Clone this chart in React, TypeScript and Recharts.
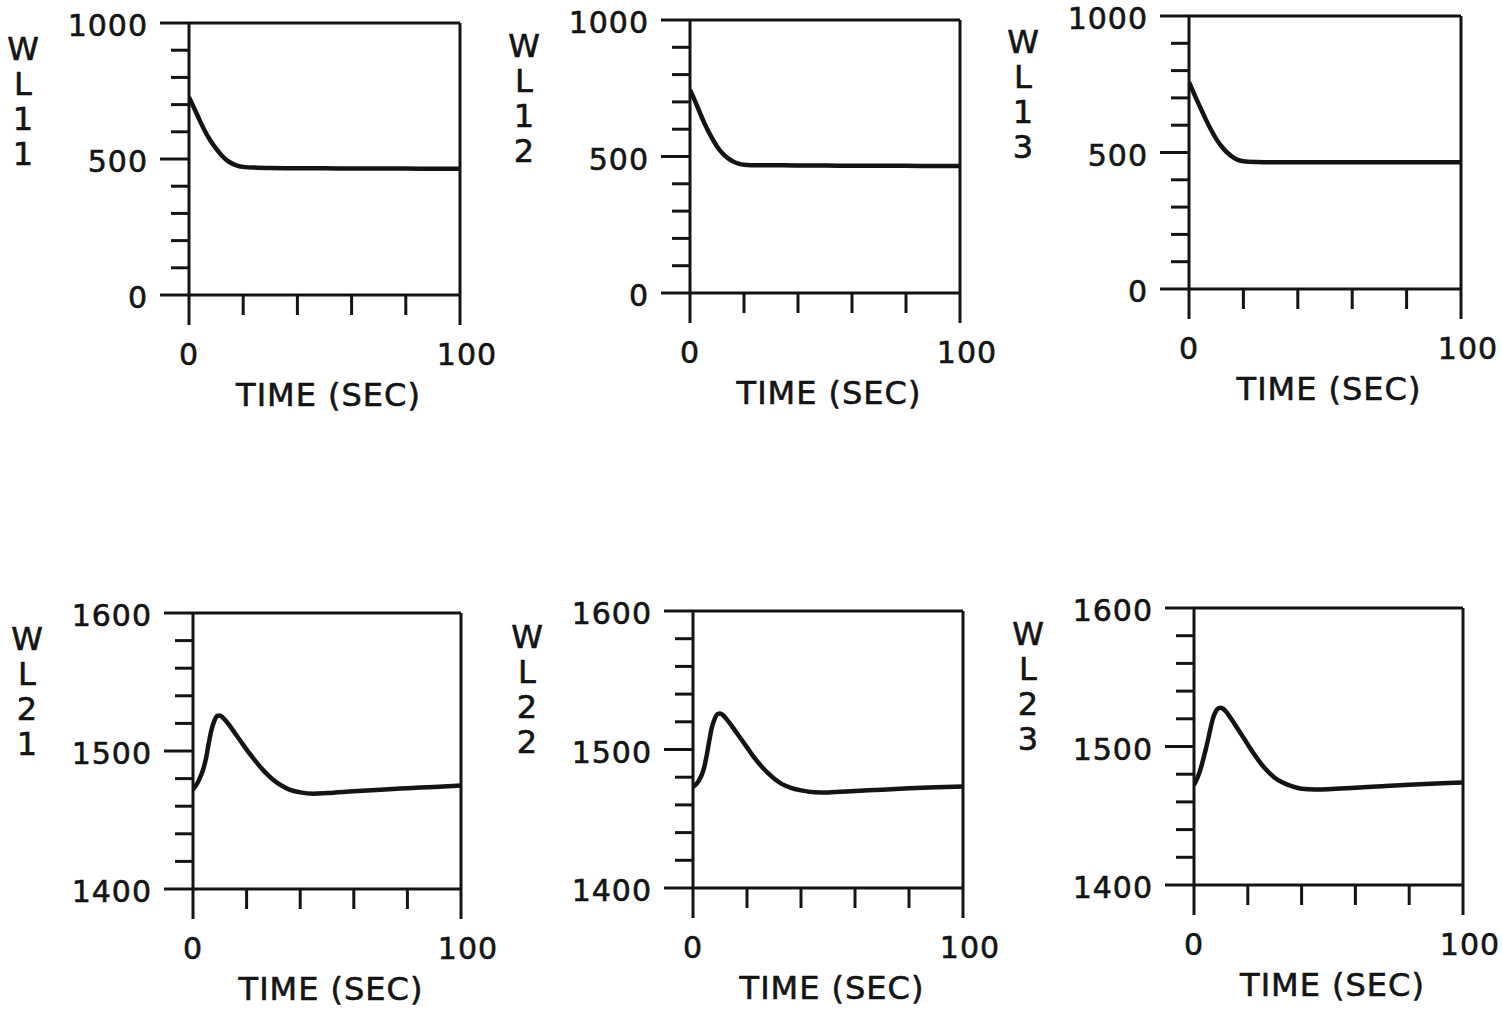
import React from "react";
import { LineChart, Line, XAxis, YAxis, ReferenceLine } from "recharts";

const INK = "#141414";
const FONT = "'DejaVu Sans', 'Liberation Sans', sans-serif";

// ---- tick labels / titles ----
const TIME_TICKS = [0, 20, 40, 60, 80, 100];
const TIME_LABELS = [0, 100];
const TOP_Y_TICKS = [0, 100, 200, 300, 400, 500, 600, 700, 800, 900, 1000];
const TOP_Y_LABELS = [0, 500, 1000];
const BOT_Y_TICKS = [1400, 1420, 1440, 1460, 1480, 1500, 1520, 1540, 1560, 1580, 1600];
const BOT_Y_LABELS = [1400, 1500, 1600];
const X_TITLE = "TIME (SEC)";
const NAMES = [
  ["W", "L", "1", "1"],
  ["W", "L", "1", "2"],
  ["W", "L", "1", "3"],
  ["W", "L", "2", "1"],
  ["W", "L", "2", "2"],
  ["W", "L", "2", "3"],
];

// ---- series (time in sec) ----
const TOP_T = [0, 2, 4, 6, 8, 10, 12, 14, 16, 18, 20, 25, 30, 40, 50, 60, 70, 80, 90, 100];
const WL11 = [727, 685, 641, 600, 566, 538, 514, 495, 483, 475, 471, 468, 467, 466, 466, 465, 465, 465, 464, 464];
const WL12 = [744, 700, 652, 608, 570, 537, 512, 494, 482, 474, 470, 468, 468, 467, 467, 466, 466, 466, 465, 465];
const WL13 = [758, 712, 668, 625, 585, 550, 522, 500, 484, 473, 468, 465, 464, 464, 464, 464, 464, 464, 464, 464];

const BOT_T = [0, 2, 4, 5, 6, 7, 8, 9, 10, 11, 12, 14, 16, 18, 20, 22, 24, 26, 28, 30, 33, 36, 40, 45, 50, 60, 70, 80, 90, 100];
const WL21 = [1472, 1478, 1488, 1496, 1507, 1516, 1522, 1525.5, 1525.8, 1524.5, 1522.5, 1517.5, 1512, 1506.5, 1501, 1496, 1491, 1486.5, 1482.5, 1479, 1475, 1472, 1470, 1469, 1469.5, 1470.8, 1472, 1473, 1474, 1475];
const WL22 = [1473, 1477, 1486, 1495, 1506, 1516, 1522, 1525.5, 1526, 1525, 1523, 1518, 1512.5, 1507, 1501.5, 1496, 1491, 1486.5, 1482.5, 1479, 1475, 1472.5, 1470.5, 1469.2, 1469, 1470, 1471, 1472, 1472.8, 1473.3];
const WL23 = [1472, 1481, 1495, 1503, 1512, 1520, 1525, 1527.5, 1528, 1527, 1525, 1519.5, 1513.5, 1507.5, 1501.5, 1495.5, 1490, 1485, 1481, 1477.5, 1474, 1471.5, 1469.5, 1469, 1469.2, 1470.3, 1471.3, 1472.3, 1473.2, 1474];

// ---- layout (plot boxes in page pixels) ----
const BOXES = [
  { l: 189, t: 23, r: 460, b: 295 },
  { l: 690, t: 20, r: 960, b: 293 },
  { l: 1189, t: 16, r: 1461, b: 289 },
  { l: 193, t: 613, r: 461, b: 889 },
  { l: 693, t: 611, r: 963, b: 888 },
  { l: 1194, t: 608, r: 1463, b: 885 },
];
const AXW = 190;
const TOPPAD = 25;
const RPAD = 45;
const XAH = 125;

const textStyle = { fontFamily: FONT, fill: INK, stroke: INK, strokeWidth: 0.6 } as const;

const makeXTick = () => (props: any) => {
  const { x, y, payload } = props;
  const v = payload.value;
  const major = TIME_LABELS.includes(v);
  return (
    <g>
      <line x1={x} x2={x} y1={y} y2={y + (major ? 30 : 20)} stroke={INK} strokeWidth={3} />
      {major && (
        <text x={x + (v === 100 ? 7 : 0)} y={y + 70} textAnchor="middle" fontSize={30} letterSpacing={1} {...textStyle}>
          {v}
        </text>
      )}
    </g>
  );
};

const makeYTick = (labels: number[]) => (props: any) => {
  const { x, y, payload } = props;
  const v = payload.value;
  const major = labels.includes(v);
  return (
    <g>
      <line x1={x - (major ? 29 : 18)} x2={x} y1={y} y2={y} stroke={INK} strokeWidth={3} />
      {major && (
        <text x={x - 41} y={y + 13} textAnchor="end" fontSize={30} letterSpacing={1} {...textStyle}>
          {v}
        </text>
      )}
    </g>
  );
};

const makeYTitle = (chars: string[]) => (props: any) => {
  const vb = props.viewBox || {};
  const cx = vb.x + vb.width - 166;
  const top = vb.y;
  return (
    <g>
      {chars.map((c, i) => (
        <text key={i} x={cx} y={top + 37 + i * 35} textAnchor="middle" fontSize={32} {...textStyle}>
          {c}
        </text>
      ))}
    </g>
  );
};

const renderXTitle = (props: any) => {
  const vb = props.viewBox || {};
  return (
    <text x={vb.x + vb.width / 2 + 4} y={vb.y + 111} textAnchor="middle" fontSize={32} letterSpacing={1} {...textStyle}>
      {X_TITLE}
    </text>
  );
};

type PanelProps = {
  box: { l: number; t: number; r: number; b: number };
  t: number[];
  v: number[];
  yTicks: number[];
  yLabels: number[];
  name: string[];
};

function Panel({ box, t, v, yTicks, yLabels, name }: PanelProps) {
  const data = t.map((tt, i) => ({ t: tt, v: v[i] }));
  const w = box.r - box.l;
  const h = box.b - box.t;
  const yMin = yTicks[0];
  const yMax = yTicks[yTicks.length - 1];
  return (
    <div style={{ position: "absolute", left: box.l - AXW, top: box.t - TOPPAD }}>
      <LineChart
        width={AXW + w + RPAD}
        height={TOPPAD + h + XAH}
        data={data}
        margin={{ top: TOPPAD, right: RPAD, left: 0, bottom: 0 }}
      >
        <XAxis
          dataKey="t"
          type="number"
          domain={[0, 100]}
          ticks={TIME_TICKS}
          interval={0}
          allowDataOverflow
          height={XAH}
          tickLine={false}
          tickSize={0}
          tickMargin={0}
          axisLine={{ stroke: INK, strokeWidth: 3 }}
          tick={makeXTick()}
          label={{ content: renderXTitle }}
        />
        <YAxis
          type="number"
          domain={[yMin, yMax]}
          ticks={yTicks}
          interval={0}
          allowDataOverflow
          width={AXW}
          tickLine={false}
          tickSize={0}
          tickMargin={0}
          axisLine={{ stroke: INK, strokeWidth: 3 }}
          tick={makeYTick(yLabels)}
          label={{ content: makeYTitle(name) }}
        />
        <ReferenceLine y={yMax} stroke={INK} strokeWidth={3} />
        <ReferenceLine x={100} stroke={INK} strokeWidth={3} />
        <Line
          dataKey="v"
          type="monotone"
          dot={false}
          stroke={INK}
          strokeWidth={4.5}
          isAnimationActive={false}
        />
      </LineChart>
    </div>
  );
}

export default function App() {
  const series = [WL11, WL12, WL13, WL21, WL22, WL23];
  return (
    <div style={{ position: "absolute", left: 0, top: 0, width: 1502, height: 1009, background: "#fff" }}>
      {series.map((s, i) => {
        const top = i < 3;
        return (
          <Panel
            key={i}
            box={BOXES[i]}
            t={top ? TOP_T : BOT_T}
            v={s}
            yTicks={top ? TOP_Y_TICKS : BOT_Y_TICKS}
            yLabels={top ? TOP_Y_LABELS : BOT_Y_LABELS}
            name={NAMES[i]}
          />
        );
      })}
    </div>
  );
}
